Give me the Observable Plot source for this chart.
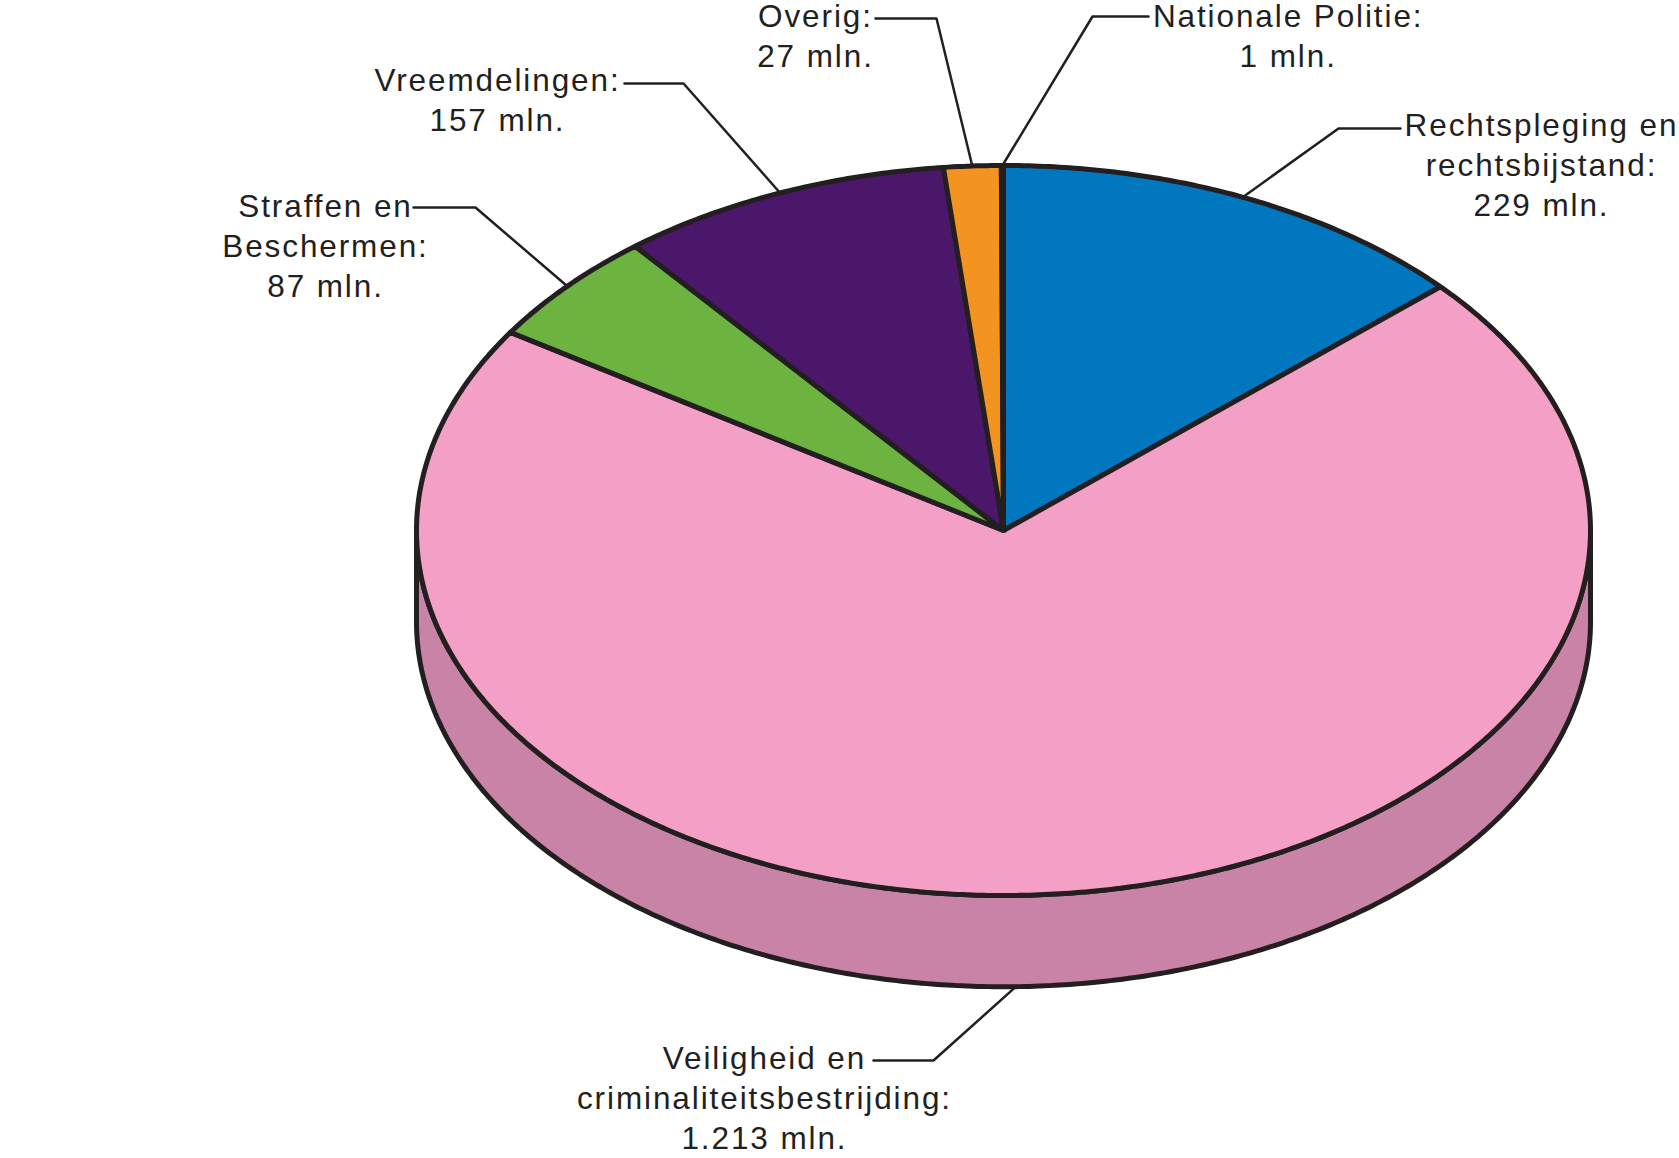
<!DOCTYPE html>
<html>
<head>
<meta charset="utf-8">
<script src="https://cdn.jsdelivr.net/npm/d3@7"></script>
<script src="https://cdn.jsdelivr.net/npm/@observablehq/plot@0.6"></script>
<style>
  html, body { margin: 0; padding: 0; background: #ffffff; }
</style>
</head>
<body>
<div id="chart"></div>
<script>
// ---------- data ----------
const categories = [
  "Rechtspleging en rechtsbijstand",
  "Veiligheid en criminaliteitsbestrijding",
  "Straffen en Beschermen",
  "Vreemdelingen",
  "Overig",
  "Nationale Politie"
];
const values = [229, 1213, 87, 157, 27, 1];           // mln. euro
const labelNames = [
  "Rechtspleging en\nrechtsbijstand:",
  "Veiligheid en\ncriminaliteitsbestrijding:",
  "Straffen en\nBeschermen:",
  "Vreemdelingen:",
  "Overig:",
  "Nationale Politie:"
];
const unit = "mln.";

// ---------- styles ----------
const topColors  = ["#0077BF", "#F4A0C6", "#6CB33F", "#4B176B", "#F39320", "#F39320"];
const sideColors = ["#005E96", "#C983A6", "#55902F", "#3A1155", "#C4761A", "#C4761A"];
const ink = "#231f20";
const depth = 0.25;   // thickness of the pie, in units of the vertical radius

// label layout, in the chart's own (x, y) units; shift = nudge of the leader's start angle (degrees)
const labelLayout = [
  {elbow: [0.5707, 1.1014],  end: [0.6763, 1.1014],  text: [0.9165, 0.8630],  shift: 0},
  {elbow: [-0.1193, -1.4521], end: [-0.2215, -1.4521], text: [-0.4072, -1.6932], shift: 3.3},
  {elbow: [-0.8995, 0.8849], end: [-1.0051, 0.8849], text: [-1.1550, 0.6392], shift: 0},
  {elbow: [-0.5451, 1.2247], end: [-0.6457, 1.2247], text: [-0.8620, 1.0932], shift: 0},
  {elbow: [-0.1141, 1.4027], end: [-0.2181, 1.4027], text: [-0.3203, 1.2712], shift: 0},
  {elbow: [0.1516, 1.4082],  end: [0.2470, 1.4082],  text: [0.4850, 1.2712],  shift: 0}
];

// ---------- geometry from the data ----------
const fmt = d3.formatLocale({decimal: ",", thousands: ".", grouping: [3], currency: ["€", ""]}).format(",d");
const arcs = d3.pie().sort(null).value(d => d)(values);
const step = Math.PI / 360;
function arcAngles(a0, a1) {
  const n = Math.max(2, Math.ceil((a1 - a0) / step));
  return d3.range(n + 1).map(i => a0 + (a1 - a0) * i / n);
}

const topPts = arcs.flatMap((a, i) => [
  {slice: i, x: 0, y: 0, fill: topColors[i]},
  ...arcAngles(a.startAngle, a.endAngle).map(t => ({slice: i, x: Math.sin(t), y: Math.cos(t), fill: topColors[i]}))
]);

const sidePts = arcs.flatMap((a, i) => {
  const s = Math.max(a.startAngle, Math.PI / 2);
  const e = Math.min(a.endAngle, 3 * Math.PI / 2);
  if (e <= s) return [];
  const ts = arcAngles(s, e);
  return [
    ...ts.map(t => ({slice: i, x: Math.sin(t), y: Math.cos(t), fill: sideColors[i]})),
    ...ts.slice().reverse().map(t => ({slice: i, x: Math.sin(t), y: Math.cos(t) - depth, fill: sideColors[i]}))
  ];
});

const leaderPts = arcs.flatMap((a, i) => {
  const L = labelLayout[i];
  const t = (a.startAngle + a.endAngle) / 2 + L.shift * Math.PI / 180;
  const front = Math.cos(t) < 0;
  return [
    {id: i, x: Math.sin(t), y: Math.cos(t) - (front ? depth : 0)},
    {id: i, x: L.elbow[0], y: L.elbow[1]},
    {id: i, x: L.end[0], y: L.end[1]}
  ];
});

const labels = arcs.map((a, i) => ({
  category: categories[i],
  x: labelLayout[i].text[0],
  y: labelLayout[i].text[1],
  text: `${labelNames[i]}\n${fmt(values[i])} ${unit}`
}));

const font = "'Liberation Sans', Arial, Helvetica, sans-serif";

const chart = Plot.plot({
  width: 1679,
  height: 1158,
  marginLeft: 416,
  marginRight: 89,
  marginTop: 165,
  marginBottom: 263,
  x: {domain: [-1, 1], axis: null},
  y: {domain: [-1, 1], axis: null},
  color: {type: "identity"},
  style: {fontFamily: font, letterSpacing: "1.9px", background: "#ffffff", overflow: "visible"},
  marks: [
    Plot.line(sidePts, {x: "x", y: "y", z: "slice", fill: "fill", stroke: ink, strokeWidth: 5, strokeLinejoin: "round", curve: "linear-closed"}),
    Plot.line(topPts, {x: "x", y: "y", z: "slice", fill: "fill", stroke: ink, strokeWidth: 5, strokeLinejoin: "round", curve: "linear-closed"}),
    Plot.line(leaderPts, {x: "x", y: "y", z: "id", stroke: ink, strokeWidth: 2.5, strokeLinejoin: "miter"}),
    Plot.text(labels, {x: "x", y: "y", text: "text", fontSize: 31.5, fontFamily: font, lineHeight: 40 / 31.5, lineAnchor: "bottom", textAnchor: "middle", fill: ink})
  ]
});
document.getElementById("chart").appendChild(chart);
</script>
</body>
</html>
